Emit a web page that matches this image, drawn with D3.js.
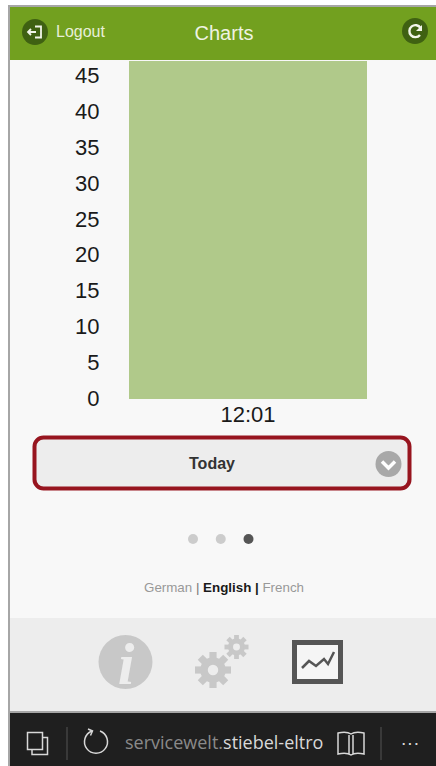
<!DOCTYPE html>
<html>
<head>
<meta charset="utf-8">
<title>Charts</title>
<script src="https://cdn.jsdelivr.net/npm/d3@7"></script>
<style>
    html, body { margin: 0; padding: 0; background: #fff; overflow: hidden; }
    svg { display: block; font-family: "Liberation Sans", Arial, sans-serif; }
    .axis text { font-size: 22px; fill: #1a1a1a; font-family: "Liberation Sans", Arial, sans-serif; }
</style>
</head>
<body>
<svg id="chart" width="436" height="766"></svg>
<script>
// chart values
const times = ["12:01"];
const values = [47.2];
const yTicks = [0, 5, 10, 15, 20, 25, 30, 35, 40, 45];

// page texts
const languages = ["German", "English", "French"];
const pageDots = [0, 1, 2];
const activeDot = 2;

const svg = d3.select("#chart");

// page frame
svg.append("rect").attr("width", 436).attr("height", 766).attr("fill", "#fff");
svg.append("rect").attr("x", 10).attr("y", 7).attr("width", 426).attr("height", 759).attr("fill", "#f8f8f8");
svg.append("rect").attr("x", 8).attr("y", 5).attr("width", 428).attr("height", 2).attr("fill", "#a6a6a6");
svg.append("rect").attr("x", 8).attr("y", 5).attr("width", 2).attr("height", 761).attr("fill", "#a6a6a6");

// header
svg.append("rect").attr("x", 10).attr("y", 7).attr("width", 426).attr("height", 53).attr("fill", "#72a01f");
svg.append("circle").attr("cx", 35).attr("cy", 32).attr("r", 13).attr("fill", "#3f6112");
svg.append("path")
    .attr("d", "M35 26.5h6v11h-6M28 32h8M31 29l-3 3 3 3")
    .attr("fill", "none").attr("stroke", "#f2f5ea").attr("stroke-width", 1.8);
svg.append("text").attr("x", 56).attr("y", 37).attr("font-size", 16).attr("fill", "#e8efd9").text("Logout");
svg.append("text").attr("x", 224).attr("y", 40).attr("text-anchor", "middle").attr("font-size", 20).attr("fill", "#eef3e2").text("Charts");
svg.append("circle").attr("cx", 415).attr("cy", 31).attr("r", 13).attr("fill", "#3f6112");
svg.append("path")
    .attr("d", "M420 35a6 6 0 1 1 0.5 -7")
    .attr("fill", "none").attr("stroke", "#f2f5ea").attr("stroke-width", 2.4);
svg.append("path").attr("d", "M422 25v6h-6z").attr("fill", "#f2f5ea");

// chart
const x = d3.scaleBand().domain(times).range([129, 367]);
const y = d3.scaleLinear().domain([0, 47.2]).range([399, 61]);

svg.selectAll("rect.bar")
    .data(values)
    .join("rect")
    .attr("class", "bar")
    .attr("x", (d, i) => x(times[i]))
    .attr("y", d => y(d))
    .attr("width", x.bandwidth())
    .attr("height", d => y(0) - y(d))
    .attr("fill", "#b0c98a");

const yAxis = svg.append("g")
    .attr("class", "axis")
    .attr("transform", "translate(99.5,-1)")
    .call(d3.axisLeft(y).tickValues(yTicks).tickSize(0).tickPadding(0));
yAxis.select(".domain").remove();

const xAxis = svg.append("g")
    .attr("class", "axis")
    .attr("transform", "translate(0,399)")
    .call(d3.axisBottom(x).tickSize(0).tickPadding(7));
xAxis.select(".domain").remove();

// range selector
svg.append("rect").attr("x", 34.5).attr("y", 437.5).attr("width", 375).attr("height", 51).attr("rx", 9)
    .attr("fill", "#ededed").attr("stroke", "#97151f").attr("stroke-width", 4);
svg.append("text").attr("x", 212).attr("y", 469).attr("text-anchor", "middle")
    .attr("font-size", 16).attr("font-weight", "bold").attr("fill", "#333").text("Today");
svg.append("circle").attr("cx", 388.5).attr("cy", 464).attr("r", 13).attr("fill", "#a8a8a8");
svg.append("path").attr("d", "M382 461.5l6.5 6.5 6.5-6.5")
    .attr("fill", "none").attr("stroke", "#fff").attr("stroke-width", 3.5);

// pager dots
const dotX = d3.scalePoint().domain(pageDots).range([193, 248.5]);
svg.selectAll("circle.dot")
    .data(pageDots)
    .join("circle")
    .attr("class", "dot")
    .attr("cx", d => dotX(d))
    .attr("cy", 539)
    .attr("r", 5)
    .attr("fill", d => d === activeDot ? "#555" : "#ccc");

// language switch
const lang = svg.append("text").attr("x", 224).attr("y", 592).attr("text-anchor", "middle").attr("font-size", 13.35);
languages.forEach((l, i) => {
    lang.append("tspan")
        .attr("fill", l === "English" ? "#1a1a1a" : "#999")
        .attr("font-weight", l === "English" ? "bold" : "normal")
        .text(l);
    if (i < languages.length - 1) {
        lang.append("tspan")
            .attr("fill", i === 1 ? "#1a1a1a" : "#777")
            .attr("font-weight", i === 1 ? "bold" : "normal")
            .text(" | ");
    }
});

// bottom nav
svg.append("rect").attr("x", 10).attr("y", 618).attr("width", 426).attr("height", 94).attr("fill", "#ededed");
svg.append("rect").attr("x", 10).attr("y", 711).attr("width", 426).attr("height", 2).attr("fill", "#a6a6a6");

// info icon
svg.append("circle").attr("cx", 125.5).attr("cy", 662).attr("r", 27).attr("fill", "#c8c8c8");
svg.append("text").attr("x", 126).attr("y", 684).attr("text-anchor", "middle")
    .attr("font-family", "'Liberation Serif', serif").attr("font-style", "italic").attr("font-weight", "bold")
    .attr("font-size", 60).attr("fill", "#ededed").text("i");

// gears
function gear(cx, cy, r, teeth) {
    const g = svg.append("g").attr("transform", `translate(${cx},${cy})`);
    g.append("circle").attr("r", r * 0.5).attr("fill", "none").attr("stroke", "#c8c8c8").attr("stroke-width", r * 0.42);
    d3.range(teeth).forEach(i => {
        g.append("rect")
            .attr("x", -r * 0.2).attr("y", -r)
            .attr("width", r * 0.4).attr("height", r * 0.4)
            .attr("fill", "#c8c8c8")
            .attr("transform", `rotate(${i * 360 / teeth})`);
    });
}
gear(213, 670, 18, 8);
gear(236.5, 647, 12, 8);

// chart icon
svg.append("rect").attr("x", 294.5).attr("y", 642.5).attr("width", 46).attr("height", 39)
    .attr("fill", "#f5f5f5").attr("stroke", "#555").attr("stroke-width", 5);
svg.append("path").attr("d", "M302 668l7-7 7 5 8-7 4 5 6-12")
    .attr("fill", "none").attr("stroke", "#555").attr("stroke-width", 2.5);

// browser bar
svg.append("rect").attr("x", 10).attr("y", 713).attr("width", 426).attr("height", 53).attr("fill", "#1f1f1f");
svg.append("rect").attr("x", 27.5).attr("y", 732.5).attr("width", 15).attr("height", 17)
    .attr("fill", "none").attr("stroke", "#d8d8d8").attr("stroke-width", 1.5);
svg.append("path").attr("d", "M32 750v4.5h15.5v-17h-4.5")
    .attr("fill", "none").attr("stroke", "#d8d8d8").attr("stroke-width", 1.5);
svg.append("rect").attr("x", 66.5).attr("y", 727).attr("width", 1).attr("height", 33).attr("fill", "#555");
svg.append("rect").attr("x", 380.5).attr("y", 727).attr("width", 1).attr("height", 33).attr("fill", "#555");
svg.append("path").attr("d", "M92 731a11.5 11.5 0 1 0 8 0")
    .attr("fill", "none").attr("stroke", "#d8d8d8").attr("stroke-width", 1.5);
svg.append("path").attr("d", "M88 729l4.5 2-2 4.5").attr("fill", "none").attr("stroke", "#d8d8d8").attr("stroke-width", 1.5);
const url = svg.append("text").attr("x", 125).attr("y", 749).attr("font-size", 18)
    .attr("font-family", "'Open Sans', sans-serif");
url.append("tspan").attr("fill", "#8a8a8a").text("servicewelt.");
url.append("tspan").attr("fill", "#d8d8d8").text("stiebel-eltro");
svg.append("path").attr("d", "M351 734c-3-2-8-2-13-1v21c5-1 10-1 13 1c3-2 8-2 13-1v-21c-5-1-10-1-13 1zM349 735v19M353 735v19")
    .attr("fill", "none").attr("stroke", "#d8d8d8").attr("stroke-width", 1.5);
svg.append("text").attr("x", 410).attr("y", 749).attr("text-anchor", "middle").attr("font-size", 19)
    .attr("fill", "#d8d8d8").text("···");
</script>
</body>
</html>
